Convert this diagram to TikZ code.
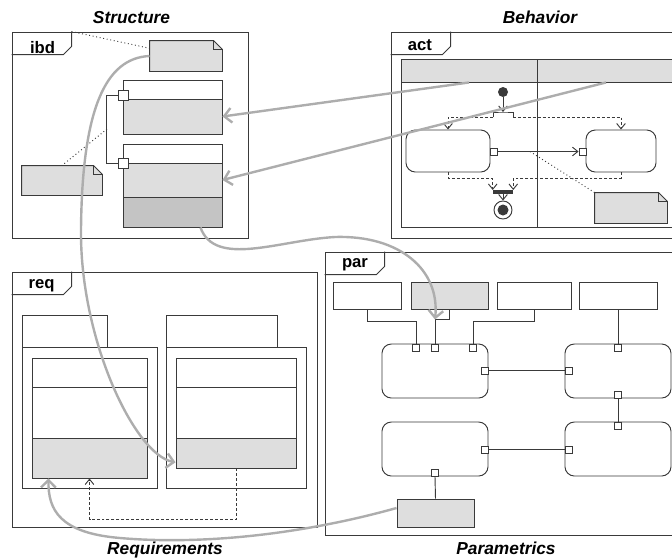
\documentclass[tikz,border=0pt]{standalone}
\usepackage{fontspec}
\newfontfamily\diagfont{Liberation Sans}
\usepackage{tikz}
\usetikzlibrary{arrows.meta,calc}

\definecolor{fillA}{HTML}{DEDEDE}
\definecolor{fillB}{HTML}{C4C4C4}
\definecolor{strokeC}{HTML}{3A3A3A}
\definecolor{traceC}{HTML}{ADADAD}

\tikzset{
  line/.style={draw=strokeC, line width=0.7pt},
  box/.style 2 args={line, inner sep=0pt, minimum width=#1*0.75pt, minimum height=#2*0.75pt},
  action/.style 2 args={box={#1}{#2}, rounded corners=7pt},
  portbox/.style={box={#1}{#1}, fill=white},
  note/.style 2 args={box={#1}{#2}, draw=none},
  dashline/.style={dash pattern=on 2.2pt off 1.5pt},
  tip/.style={-{Straight Barb[length=4pt,width=6.5pt]}},
  trace/.style={draw=traceC, line width=1.8pt, -{Straight Barb[length=5.5pt,width=11pt]}},
  tablabel/.style={font=\diagfont\bfseries\fontsize{12.5}{14}\selectfont, anchor=base, inner sep=0pt},
  title/.style={font=\diagfont\bfseries\itshape\fontsize{13}{15}\selectfont, anchor=base, inner sep=0pt}
}

\begin{document}
\begin{tikzpicture}[x=0.75pt,y=0.75pt,yscale=-1,xscale=1]
\useasboundingbox (0,0) rectangle (672,558);
\clip (0,0) rectangle (672,558);

% Frames
\node[box={236}{206}] (ibd) at (130,135) {};
\node[box={299}{206}] (act) at (540.5,135) {};
\node[box={305}{255}] (req) at (164.5,399.5) {};
\node[box={365}{283}] (par) at (507.5,393.5) {};
\foreach \f in {ibd,act,req,par}
  \draw[line] ($(\f.north west)+(60,0)$) -- ++(0,15) -- ++(-8,8) -- ++(-52,0);

% Text Node
\node[tablabel] (ibdlbl) at (42.5,53) {ibd};
\node[tablabel] (actlbl) at (420,50.5) {act};
\node[tablabel] (reqlbl) at (41.5,288.5) {req};
\node[tablabel] (parlbl) at (355,267) {par};
\node[title] (ttlstruct) at (131.5,23) {Structure};
\node[title] (ttlbehav) at (540,23) {Behavior};
\node[title] (ttlreq) at (165,554.5) {Requirements};
\node[title] (ttlpar) at (506,554.5) {Parametrics};

%---- ibd
\node[note={72}{30}] (ibdnoteA) at (186,56) {};
\node[box={99}{19}] (blkAhead) at (172.5,89.5) {};
\node[box={99}{35}, fill=fillA] (blkAbody) at (172.5,116.5) {};
\node[box={99}{19}] (blkBhead) at (172.5,153.5) {};
\node[box={99}{34}, fill=fillA] (blkBbody) at (172.5,180) {};
\node[box={99}{30}, fill=fillB] (blkBbot) at (172.5,212) {};
\node[portbox=10] (prtA) at (123,95) {};
\node[portbox=10] (prtB) at (123,163.5) {};
\node[note={80}{29}] (ibdnoteB) at (62,180.5) {};
\coordinate (busmid) at (107,129);
%Straight Lines
\draw[line] (prtA.west) -- ++(-11,0) |- (prtB.west);
\draw[line, dotted] (busmid) -- (ibdnoteB.north);
\draw[line, dotted] ($(ibd.north west)+(60,0)$) -- ($(ibdnoteA.north west)!0.25!(ibdnoteA.south west)$);

%---- act
\node[box={136}{23}, fill=fillA] (laneHL) at (469,70.5) {};
\node[box={138}{23}, fill=fillA] (laneHR) at (606,70.5) {};
\node[box={136}{145}] (laneL) at (469,154.5) {};
\node[box={138}{145}] (laneR) at (606,154.5) {};
\node[circle, fill=strokeC, inner sep=0pt, minimum size=10*0.75pt] (init) at (503,92) {};
\coordinate (forkbar) at (503,112);
\coordinate (forkL) at (493,117);
\coordinate (forkR) at (513,117);
\node[action={84}{42}] (actL) at (448,151) {};
\node[action={70}{42}] (actR) at (621,151) {};
\node[portbox=7] (actLout) at (493.5,151.5) {};
\node[portbox=7] (actRin) at (582.5,151.5) {};
\node[fill=strokeC, inner sep=0pt, minimum width=20*0.75pt, minimum height=3.5*0.75pt] (join) at (503,192) {};
\node[circle, line, fill=white, inner sep=0pt, minimum size=18*0.75pt] (final) at (503,210) {};
\node[circle, fill=strokeC, inner sep=0pt, minimum size=11*0.75pt] (finaldot) at (final) {};
\node[note={72}{30}] (actnote) at (631,208) {};
\coordinate (flowmid) at (530,151.5);
%Straight Lines
\draw[line, tip] (init) -- (forkbar);
\draw[line] (forkL) |- (forkbar) -| (forkR);
\draw[line, dashline, tip] (forkL) -| (actL.north);
\draw[line, dashline, tip] (forkR) -| (actR.north);
\draw[line, tip] (actLout.east) -- (actRin.west);
\draw[line, dashline, tip] (actL.south) -- ++(0,6) -| (join.north west);
\draw[line, dashline, tip] (actR.south) -- ++(0,6) -| (join.north east);
\draw[line, tip] (join.south) -- (final.north);
\draw[line, dotted] (flowmid) -- (actnote.north west);

% notes with folded corner
\foreach \nt in {ibdnoteA,ibdnoteB,actnote}{
  \draw[line, fill=fillA] (\nt.south west) -- (\nt.north west) -- ($(\nt.north east)+(-9,0)$) -- ($(\nt.north east)+(0,9)$) -- (\nt.south east) -- cycle;
  \draw[line] ($(\nt.north east)+(-9,0)$) |- ($(\nt.north east)+(0,9)$);
}

%---- req
\node[box={85}{32}] (reqLtab) at (64.5,331) {};
\node[box={135}{141}] (reqLpkg) at (89.5,417.5) {};
\node[box={115}{29}] (reqLhead) at (89.5,372.5) {};
\node[box={115}{51}] (reqLmid) at (89.5,412.5) {};
\node[box={115}{40}, fill=fillA] (reqLbody) at (89.5,458) {};
\node[box={111}{32}] (reqRtab) at (221.5,331) {};
\node[box={140}{141}] (reqRpkg) at (236,417.5) {};
\node[box={120}{29}] (reqRhead) at (236,372.5) {};
\node[box={120}{51}] (reqRmid) at (236,412.5) {};
\node[box={120}{30}, fill=fillA] (reqRbody) at (236,453) {};
%Straight Lines
\draw[line, dashline, tip] (reqRbody.south) -- ++(0,51) -| (reqLbody.south);

%---- par
\node[box={68}{27}] (pb1) at (367,295.5) {};
\node[box={77}{27}, fill=fillA] (pb2) at (449.5,295.5) {};
\node[box={74}{27}] (pb3) at (534,295.5) {};
\node[box={78}{27}] (pb4) at (618,295.5) {};
\node[action={106}{54}] (c1) at (435,371) {};
\node[action={106}{54}] (c2) at (618,371) {};
\node[action={106}{54}] (c3) at (435,449) {};
\node[action={106}{54}] (c4) at (618,449) {};
\node[portbox=7] (c1t1) at (416,347.5) {};
\node[portbox=7] (c1t2) at (435,347.5) {};
\node[portbox=7] (c1t3) at (473,347.5) {};
\node[portbox=7] (c1r) at (484.5,370.5) {};
\node[portbox=7] (c2l) at (568.5,370.5) {};
\node[portbox=7] (c2t) at (618,347.5) {};
\node[portbox=7] (c2b) at (618,394.5) {};
\node[portbox=7] (c4t) at (618,425.5) {};
\node[portbox=7] (c4l) at (568.5,449.5) {};
\node[portbox=7] (c3r) at (484.5,449.5) {};
\node[portbox=7] (c3b) at (435,472.5) {};
\node[box={77}{28}, fill=fillA] (parout) at (435.5,513) {};
\coordinate (bend2) at (435,319.5);
%Straight Lines
\draw[line] (pb1.south) -- ++(0,12) -| (c1t1.north);
\draw[line] (pb2.south) |- (bend2) -- (c1t2.north);
\draw[line] (pb3.south) -- ++(0,12) -| (c1t3.north);
\draw[line] (pb4.south) -- (c2t.north);
\draw[line] (c1r.east) -- (c2l.west);
\draw[line] (c2b.south) -- (c4t.north);
\draw[line] (c3r.east) -- (c4l.west);
\draw[line] (c3b.south) -- (parout.north);

%---- cross-diagram traces
\draw[trace] (laneHL.south) -- (blkAbody.east);
\draw[trace] (laneHR.south) -- (blkBbody.east);
\draw[trace] ($(blkBbot.south east)+(-22,0)$) .. controls (215,268) and (280,240) .. (335,237) .. controls (400,235) and (440,270) .. (bend2);
\draw[trace] (ibdnoteA.west) .. controls (105,58) and (82,110) .. (81,230) .. controls (80,340) and (135,455) .. ($(reqRbody.south west)!0.2!(reqRbody.north west)$);
\draw[trace] ($(parout.west)+(0,-5)$) .. controls (300,535) and (200,545) .. (120,538) .. controls (60,533) and (48,510) .. ($(reqLbody.south west)+(17,0)$);

\end{tikzpicture}
\end{document}
